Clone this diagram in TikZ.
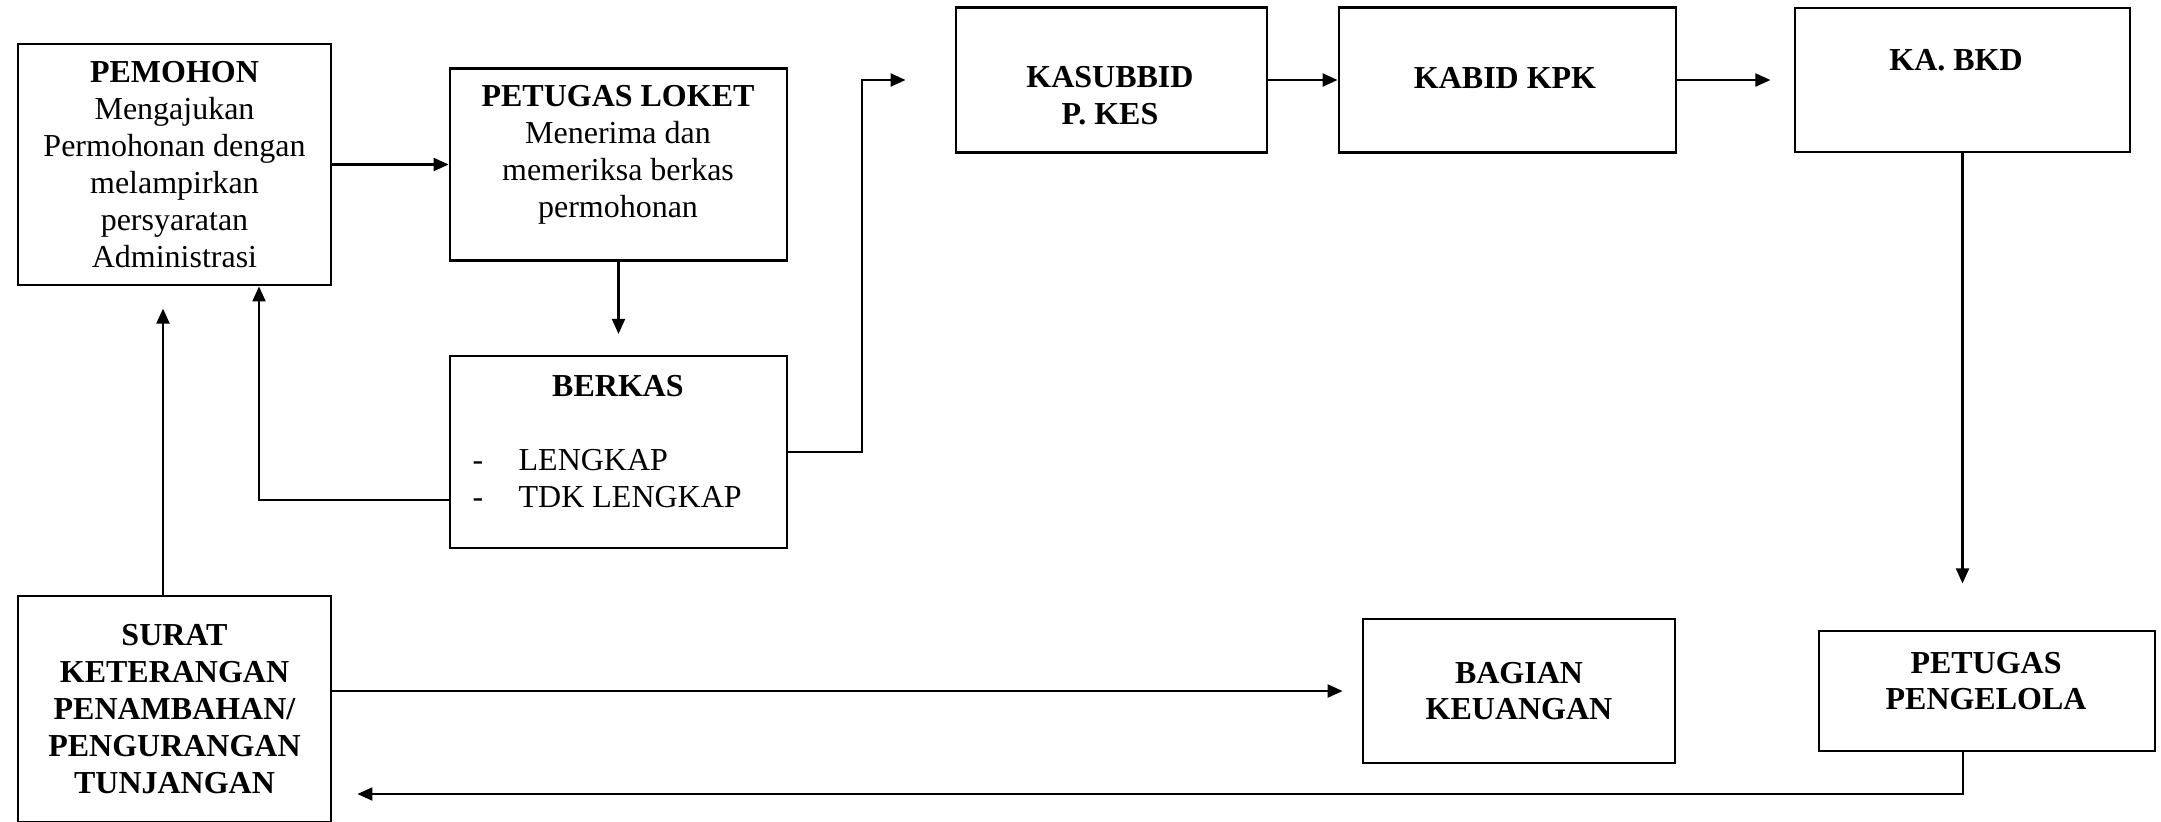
\documentclass[tikz,border=0pt]{standalone}
\usepackage{fontspec}
\setmainfont{Liberation Serif}
\usetikzlibrary{arrows.meta}

\begin{document}
\begin{tikzpicture}[x=0.1mm, y=-0.1mm,
    box/.style={draw, line width=0.8pt, inner sep=0pt},
    txt/.style={align=center, inner sep=0pt, font={\fontsize{9.1}{10.5}\selectfont}},
    bold/.style={align=center, inner sep=0pt, font={\fontsize{9.1}{10.5}\selectfont\bfseries}},
    flow/.style={line width=0.6pt, -{Triangle[length=1.5mm,width=1.3mm]}}]
\useasboundingbox (0,0) rectangle (2161,821);

% left part
\node[box, txt, minimum width=31.3mm, minimum height=24.1mm] (pemohon) at (174.5,164.5)
  {\textbf{PEMOHON}\\Mengajukan\\Permohonan dengan\\melampirkan\\persyaratan\\Administrasi};
\node[box, minimum width=33.7mm, minimum height=19.2mm] (loket) at (618.5,164.5) {};
\node[txt] (loket-txt) at (618,155)
  {\textbf{PETUGAS LOKET}\\Menerima dan\\memeriksa berkas\\permohonan};
\node[box, minimum width=33.7mm, minimum height=19.2mm] (berkas) at (618.5,452) {};
\node[bold] (berkas-title) at (618,386) {BERKAS};
\node[txt, align=left, anchor=west] (berkas-list) at (472,479)
  {\makebox[4.6mm][l]{-}LENGKAP\\\makebox[4.6mm][l]{-}TDK LENGKAP};
\node[box, bold, minimum width=31.3mm, minimum height=22.6mm] (surat) at (174.5,709)
  {SURAT\\KETERANGAN\\PENAMBAHAN/\\PENGURANGAN\\TUNJANGAN};

% top row
\node[box, minimum width=31.1mm, minimum height=14.5mm] (kasubbid) at (1111.5,80) {};
\node[bold] (kasubbid-txt) at (1110,95.5) {KASUBBID\\P. KES};
\node[box, minimum width=33.7mm, minimum height=14.5mm] (kabid) at (1507.5,80) {};
\node[bold] (kabid-txt) at (1505,78) {KABID KPK};
\node[box, minimum width=33.5mm, minimum height=14.4mm] (kabkd) at (1962.5,80) {};
\node[bold] (kabkd-txt) at (1956,60) {KA. BKD};

% bottom row
\node[box, bold, minimum width=31.2mm, minimum height=14.4mm] (bagian) at (1519,691)
  {BAGIAN\\KEUANGAN};
\node[box, minimum width=33.6mm, minimum height=12mm] (pengelola) at (1987,691) {};
\node[bold] (pengelola-txt) at (1986,681) {PETUGAS\\PENGELOLA};

% arrows
\draw[flow] (pemohon) -- (loket);
\draw[flow] (loket.south) -- ++(0,72);
\draw[flow] ([yshift=-4.8mm]berkas.west) -| ([xshift=8.45mm]pemohon.south);
\draw[flow] ([xshift=-1.15mm]surat.north) -- ++(0,-286);
\draw[flow] (berkas.east) -- ++(74,0) |- ([xshift=-4.9mm]kasubbid.west);
\draw[flow] (kasubbid) -- (kabid);
\draw[flow] (kabid.east) -- ++(93,0);
\draw[flow] (kabkd.south) -- ++(0,430);
\draw[flow] (surat.east |- bagian.west) -- ([xshift=-1.9mm]bagian.west);
\coordinate (back) at ([xshift=2.5mm,yshift=-8.5mm]surat.east);
\draw[flow] ([xshift=-2.4mm]pengelola.south) |- (back);
\end{tikzpicture}
\end{document}
